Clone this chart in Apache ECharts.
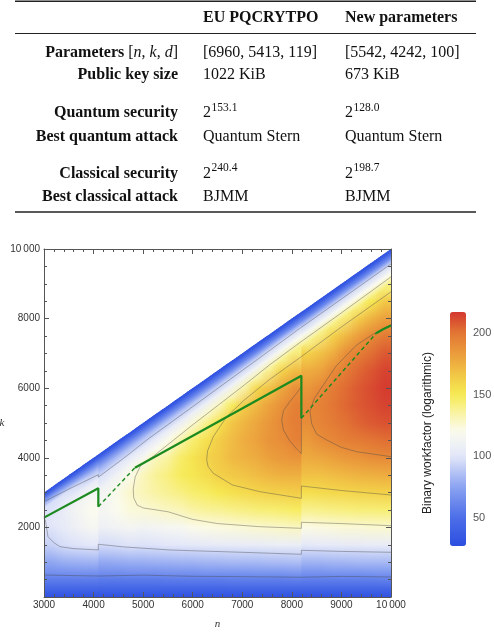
<!DOCTYPE html>
<html>
<head>
<meta charset="utf-8">
<script src="https://cdn.jsdelivr.net/npm/echarts/dist/echarts.min.js"></script>
<style>
  html, body { margin: 0; padding: 0; background: #fff; }
  #chart { width: 494px; height: 634px; }
</style>
</head>
<body>
<div id="chart"></div>
<script>
// ---------- table ----------
const colHeads = ['EU PQCRYTPO', 'New parameters'];
const rowLabels = ['Parameters', 'Public key size', 'Quantum security', 'Best quantum attack', 'Classical security', 'Best classical attack'];
const euValues = ['[6960, 5413, 119]', '1022 KiB', '153.1', 'Quantum Stern', '240.4', 'BJMM'];
const newValues = ['[5542, 4242, 100]', '673 KiB', '128.0', 'Quantum Stern', '198.7', 'BJMM'];
const powerRows = [2, 4]; // rows written as 2^x

// ---------- heat map (binary workfactor) ----------
// columns in n, split at the field-size jumps 4096 and 8192
const colEdges = [3000, 3274, 3548, 3822, 4096,
  4352, 4608, 4864, 5120, 5376, 5632, 5888, 6144, 6400, 6656, 6912, 7168, 7424, 7680, 7936, 8192,
  8450, 8709, 8967, 9225, 9483, 9742, 10000];
// lower part of every column: values at these k
const kGrid = [0, 250, 500, 750, 1000, 1500, 2000, 2500, 3000, 3500, 4000, 4500, 5000, 5500, 6000, 6500, 7000, 7500, 8000, 8500];
// band along the diagonal: values at these distances u = n - k
const uGrid = [1000, 700, 450, 250, 100, 0];
const fieldLow = [
  [30, 45, 57, 68, 76, 92, 99],
  [30, 45, 57, 69, 79, 97, 104],
  [30, 45, 57, 70, 80, 99, 110, 113],
  [30, 45, 57, 70, 81, 101, 115, 120],
  [30, 44, 56, 68, 77, 96, 109, 115, 114],
  [30, 44, 56, 68, 78, 97, 112, 120, 121],
  [30, 44, 56, 69, 79, 99, 114, 124, 127, 121],
  [30, 44, 56, 69, 79, 98, 112, 125, 131, 130],
  [30, 44, 56, 69, 80, 99, 113, 127, 135, 137, 130],
  [30, 44, 57, 70, 80, 100, 115, 129, 138, 142, 136],
  [30, 44, 57, 70, 81, 101, 116, 131, 141, 148, 146, 134],
  [30, 44, 57, 70, 81, 102, 121, 135, 145, 152, 153, 145],
  [30, 44, 57, 71, 82, 103, 122, 137, 147, 156, 160, 154, 139],
  [30, 44, 57, 71, 82, 104, 123, 138, 151, 162, 165, 163, 153],
  [30, 45, 58, 71, 83, 104, 124, 140, 154, 165, 171, 170, 166, 148],
  [30, 45, 58, 71, 83, 105, 125, 141, 157, 167, 174, 176, 173, 164],
  [30, 45, 58, 72, 83, 105, 126, 143, 159, 170, 177, 181, 179, 172, 158],
  [30, 45, 58, 72, 84, 106, 127, 144, 161, 173, 182, 187, 186, 181, 168],
  [30, 45, 58, 72, 84, 107, 128, 145, 162, 175, 185, 190, 192, 189, 179, 161],
  [30, 45, 59, 73, 85, 107, 129, 147, 163, 175, 187, 195, 197, 196, 189, 170],
  [30, 45, 58, 70, 81, 102, 122, 139, 155, 168, 177, 184, 190, 191, 186, 176, 161],
  [30, 45, 58, 70, 81, 103, 123, 140, 157, 168, 179, 190, 194, 195, 192, 180, 168],
  [30, 45, 58, 71, 82, 103, 124, 141, 158, 170, 182, 193, 198, 200, 198, 191, 176, 162],
  [30, 45, 58, 71, 82, 104, 125, 142, 159, 172, 185, 196, 201, 204, 203, 198, 190, 172],
  [30, 45, 58, 71, 83, 104, 125, 143, 160, 174, 187, 198, 205, 208, 208, 204, 197, 183, 164],
  [30, 45, 58, 72, 83, 105, 126, 143, 161, 175, 190, 200, 208, 211, 212, 209, 202, 192, 174, 151],
  [30, 45, 59, 72, 83, 105, 126, 144, 162, 176, 191, 202, 210, 214, 216, 214, 208, 198, 182, 165]
];
const fieldTop = [
  [100, 99, 97, 72, 42, 28], [106, 103, 98, 70, 42, 28], [112, 105, 95, 66, 41, 28], [115, 104, 88, 64, 40, 28],
  [109, 98, 82, 62, 40, 28], [112, 100, 84, 62, 40, 28], [115, 102, 85, 62, 40, 28], [116, 102, 86, 62, 40, 28],
  [119, 103, 87, 62, 40, 28], [121, 104, 87, 62, 40, 28], [123, 105, 88, 62, 40, 28], [125, 107, 89, 62, 40, 28],
  [126, 107, 89, 62, 40, 28], [128, 108, 90, 62, 40, 28], [129, 109, 91, 62, 40, 28], [132, 111, 92, 62, 40, 28],
  [134, 112, 93, 62, 40, 28], [137, 114, 95, 63, 40, 28], [139, 116, 96, 63, 40, 28], [141, 118, 96, 63, 40, 28],
  [139, 116, 94, 62, 40, 28], [140, 116, 95, 62, 40, 28], [141, 117, 95, 63, 40, 28], [142, 118, 95, 63, 40, 28],
  [142, 119, 96, 63, 40, 28], [143, 119, 96, 63, 40, 28], [143, 119, 97, 63, 40, 28]
];

// contour lines (n, k)
const contour64 = [[3000, 632], [3500, 618], [4096, 603], [4096, 650], [5000, 628], [6000, 595], [7000, 585], [8192, 568], [8192, 614], [9000, 592], [10000, 575]];
const contour96 = [[3000, 2260], [3030, 2200], [3050, 2000], [3081, 1733], [3200, 1560], [3323, 1446], [3600, 1390], [4096, 1352], [4096, 1515], [4600, 1440], [5541, 1351], [6147, 1322], [7000, 1285], [8192, 1227], [8192, 1342], [9000, 1310], [10000, 1285]];
const contour96Top = [[3000, 2739], [3500, 3100], [4096, 3515], [4096, 3445], [4600, 3980], [5100, 4540], [6000, 5470], [7000, 6510], [8192, 7750], [8192, 7720], [9000, 8560], [10000, 9570]];
const contour128 = [[10000, 9200], [9000, 8165], [8192, 7342], [8192, 7390], [7552, 6672], [7040, 6090], [6528, 5528], [6016, 4966], [5504, 4384], [5200, 4040], [4950, 3780], [4840, 3450], [4800, 3100], [4810, 2850], [4880, 2640], [5000, 2560], [5500, 2450], [6000, 2230], [6500, 2110], [7357, 2020], [8192, 1974], [8192, 2147], [9000, 2110], [10000, 2049]];
const contour160 = [[10000, 8770], [9000, 7760], [8192, 6907], [8192, 6942], [7552, 6252], [7040, 5660], [6685, 5182], [6415, 4607], [6300, 4200], [6282, 3950], [6310, 3750], [6415, 3555], [6800, 3220], [7357, 3026], [8192, 2836], [8192, 3190], [9000, 3060], [10000, 2931]];
const contour192a = [[8192, 6050], [8097, 5854], [7950, 5600], [7830, 5350], [7795, 5087], [7830, 4800], [7950, 4500], [8100, 4250], [8192, 4120], [8192, 6050]];
const contour192b = [[10000, 7830], [9650, 7560], [9307, 7242], [8900, 6650], [8634, 6093], [8450, 5700], [8366, 5326], [8400, 4980], [8500, 4680], [8702, 4512], [9000, 4300], [9307, 4176], [10000, 4032]];

// green parameter curve
const greenSolid = [
  [[3000, 2280], [4096, 3125], [4096, 2595]],
  [[4835, 3716], [8192, 6360], [8192, 5136]],
  [[9700, 7578], [9850, 7700], [10000, 7800]]
];
const greenDashed = [
  [[4096, 2595], [4835, 3716]],
  [[8192, 5136], [9700, 7578]]
];

// ---------- colours (TemperatureMap-like) ----------
const paletteValues = [27, 50, 75, 100, 120, 135, 150, 165, 180, 200, 217];
const paletteColors = ['#2c4ee0', '#4c6ee8', '#8ba3f1', '#e3e7f9', '#fbfbef', '#f9f3a4', '#f6ea52', '#f2c947', '#eca33d', '#e27634', '#d4382f'];
const paletteRgb = paletteColors.map(c => [1, 3, 5].map(i => parseInt(c.substr(i, 2), 16)));
function colorOf(v) {
  let i = 0;
  while (i < paletteValues.length - 2 && v > paletteValues[i + 1]) i++;
  let t = (v - paletteValues[i]) / (paletteValues[i + 1] - paletteValues[i]);
  t = Math.max(0, Math.min(1, t));
  const a = paletteRgb[i], b = paletteRgb[i + 1];
  return 'rgb(' + a.map((x, j) => Math.round(x + (b[j] - x) * t)).join(',') + ')';
}
const barColors = [];
for (let v = 27; v <= 217; v += 5) barColors.push(colorOf(v));

const chart = echarts.init(document.getElementById('chart'));

// ---------- drawing of the columns ----------
const U = 1000;   // depth of the diagonal band
const SUB = 6;    // slices per column, used to soften the column edges
const OVER = 30;  // overlap (in n) so that slices leave no hairline gaps
const centers = colEdges.slice(1).map((e, i) => (colEdges[i] + e) / 2);
const groupOf = i => (centers[i] < 4096 ? 0 : centers[i] < 8192 ? 1 : 2);

// vertical gradient of the lower part of column j
function lowFill(j, api) {
  const nc = centers[j];
  const stops = fieldLow[j].map((v, q) => ({ offset: kGrid[q] / (nc - U), color: colorOf(v) }));
  stops.push({ offset: 1, color: colorOf(fieldTop[j][0]) });
  return new echarts.graphic.LinearGradient(0, api.coord([nc, 0])[1], 0, api.coord([nc, nc - U])[1], stops, true);
}
// gradient across the diagonal band of column j
function topFill(j, api) {
  const nc = centers[j];
  const a = api.coord([nc, nc]), b = api.coord([nc, nc - U]);
  const d0 = api.coord([3000, 3000]), d1 = api.coord([10000, 10000]);
  let dx = d1[0] - d0[0], dy = d1[1] - d0[1];
  const len = Math.hypot(dx, dy); dx /= len; dy /= len;
  const vx = b[0] - a[0], vy = b[1] - a[1];
  const dot = vx * dx + vy * dy;
  const stops = uGrid.map((u, q) => ({ offset: u / U, color: colorOf(fieldTop[j][q]) })).reverse();
  return new echarts.graphic.LinearGradient(a[0], a[1], a[0] + vx - dot * dx, a[1] + vy - dot * dy, stops, true);
}

function renderColumn(params, api) {
  const i = api.value(2);
  const L = i > 0 && groupOf(i - 1) === groupOf(i) ? i - 1 : -1;
  const R = i < centers.length - 1 && groupOf(i + 1) === groupOf(i) ? i + 1 : -1;
  const own = [lowFill(i, api), topFill(i, api)];
  const left = L >= 0 ? [lowFill(L, api), topFill(L, api)] : null;
  const right = R >= 0 ? [lowFill(R, api), topFill(R, api)] : null;
  const p = (n, k) => api.coord([n, k]);
  const w = (colEdges[i + 1] - colEdges[i]) / SUB;
  const children = [];
  for (let s = 0; s < SUB; s++) {
    const a = colEdges[i] + s * w, b = colEdges[i] + (s + 1) * w + OVER;
    const t = (s + 0.5) / SUB;
    const nb = t < 0.5 ? left : right;
    const op = Math.abs(t - 0.5);
    const lowPts = [p(a, 0), p(b, 0), p(b, b - U + 40), p(a, a - U + 40)];
    const topPts = [p(a, a - U), p(b, b - U), p(b, b), p(a, a)];
    children.push({ type: 'polygon', shape: { points: lowPts }, style: { fill: own[0] } });
    if (nb) children.push({ type: 'polygon', shape: { points: lowPts }, style: { fill: nb[0], opacity: op } });
    children.push({ type: 'polygon', shape: { points: topPts }, style: { fill: own[1] } });
    if (nb) children.push({ type: 'polygon', shape: { points: topPts }, style: { fill: nb[1], opacity: op } });
  }
  return { type: 'group', children: children };
}

const axisColor = '#555';
const sans = '"Liberation Sans", Arial, sans-serif';
const serif = '"Liberation Serif", "DejaVu Serif", serif';
const fmtBig = v => (v === 10000 ? '10\u2009000' : String(v));

function frameX(pos, showLabel) {
  return {
    type: 'value', gridIndex: 0, min: 3000, max: 10000, interval: 1000, position: pos, z: 10,
    axisLine: { show: true, onZero: false, lineStyle: { color: axisColor, width: 1 } },
    axisTick: { show: true, inside: true, length: 5, lineStyle: { color: axisColor } },
    minorTick: { show: true, splitNumber: 5, length: 3, lineStyle: { color: axisColor } },
    splitLine: { show: false }, minorSplitLine: { show: false },
    axisLabel: { show: showLabel, fontSize: 10, color: '#333', fontFamily: sans, margin: 3, formatter: fmtBig }
  };
}
function frameY(pos, showLabel) {
  return {
    type: 'value', gridIndex: 0, min: 0, max: 10000, interval: 2000, position: pos, z: 10,
    axisLine: { show: true, onZero: false, lineStyle: { color: axisColor, width: 1 } },
    axisTick: { show: true, inside: true, length: 5, lineStyle: { color: axisColor } },
    minorTick: { show: true, splitNumber: 4, length: 3, lineStyle: { color: axisColor } },
    splitLine: { show: false }, minorSplitLine: { show: false },
    axisLabel: { show: showLabel, fontSize: 10, color: '#333', fontFamily: sans, margin: 4,
      formatter: v => (v === 0 ? '' : fmtBig(v)) }
  };
}

const xMain = frameX('bottom', true);
xMain.name = 'n'; xMain.nameLocation = 'middle'; xMain.nameGap = 22;
xMain.nameTextStyle = { fontStyle: 'italic', fontSize: 11, color: '#333', fontFamily: serif };
const yMain = frameY('left', true);
yMain.name = 'k'; yMain.nameLocation = 'middle'; yMain.nameGap = 39; yMain.nameRotate = 0;
yMain.nameTextStyle = { fontStyle: 'italic', fontSize: 11, color: '#333', fontFamily: serif };

function lineSeries(data, style, z) {
  return { type: 'line', data: data, xAxisIndex: 0, yAxisIndex: 0, showSymbol: false, symbol: 'none',
    silent: true, z: z, lineStyle: style };
}
const contourStyle = { color: 'rgba(70,70,70,0.45)', width: 0.9 };
const greenColor = '#1b8a1f';

const series = [
  { type: 'custom', xAxisIndex: 0, yAxisIndex: 0, clip: true, silent: true, z: 1,
    encode: { x: 0, y: 1 },
    data: centers.map((c, i) => [c, 5000, i]),
    renderItem: renderColumn },
  { type: 'scatter', data: [], xAxisIndex: 0, yAxisIndex: 0 }
];
[contour64, contour96, contour96Top, contour128, contour160, contour192a, contour192b]
  .forEach(c => series.push(lineSeries(c, contourStyle, 3)));
greenSolid.forEach(g => series.push(lineSeries(g, { color: greenColor, width: 2.2 }, 4)));
greenDashed.forEach(g => series.push(lineSeries(g, { color: greenColor, width: 1.4, type: [4, 3] }, 4)));

// ---------- table graphics ----------
const labelX = 178, col1X = 203, col2X = 345, headY = 18;
const rowY = [53, 75, 113, 137, 173.5, 197];
const g = [];
const rule = (y, w) => ({ type: 'line', shape: { x1: 15, y1: y, x2: 476, y2: y }, style: { stroke: '#222', lineWidth: w } });
g.push(rule(1.2, 1.6), rule(33.5, 1), rule(212, 1.6));
const txt = (x, y, text, font, align) => ({ type: 'text', x: x, y: y,
  style: { text: text, font: font, fill: '#111', align: align || 'left', verticalAlign: 'middle' } });
g.push(txt(col1X, headY, colHeads[0], 'bold 16px ' + serif));
g.push(txt(col2X, headY, colHeads[1], 'bold 16px ' + serif));
rowLabels.forEach((lab, r) => {
  if (r === 0) {
    g.push({ type: 'text', x: labelX, y: rowY[r], style: {
      text: '{b|' + lab + ' }{m|[}{i|n}{m|, }{i|k}{m|, }{i|d}{m|]}',
      align: 'right', verticalAlign: 'middle', fill: '#111',
      rich: {
        b: { fontFamily: serif, fontWeight: 'bold', fontSize: 16 },
        m: { fontFamily: serif, fontSize: 16 },
        i: { fontFamily: serif, fontStyle: 'italic', fontSize: 16 }
      } } });
  } else {
    g.push(txt(labelX, rowY[r], lab, 'bold 16px ' + serif, 'right'));
  }
  [[col1X, euValues[r]], [col2X, newValues[r]]].forEach(([x, v]) => {
    if (powerRows.indexOf(r) >= 0) {
      g.push(txt(x, rowY[r], '2', '16px ' + serif));
      g.push(txt(x + 8.5, rowY[r] - 5.5, v, '11.5px ' + serif));
    } else {
      g.push(txt(x, rowY[r], v, '16px ' + serif));
    }
  });
});
g.push({ type: 'text', x: 428, y: 433, rotation: Math.PI / 2,
  style: { text: 'Binary workfactor (logarithmic)', font: '12px ' + sans, fill: '#222', align: 'center', verticalAlign: 'middle' } });

const option = {
  animation: false,
  backgroundColor: '#fff',
  textStyle: { fontFamily: sans },
  grid: [
    { left: 44, top: 249, width: 347, height: 348, containLabel: false, outerBoundsMode: 'none' },
    { left: 450, top: 320.6, width: 16, height: 221.7, containLabel: false, outerBoundsMode: 'none' },
    { left: 450, top: 332.9, width: 16, height: 184.8, containLabel: false, outerBoundsMode: 'none' }
  ],
  xAxis: [
    xMain,
    frameX('top', false),
    { type: 'value', gridIndex: 1, show: false, min: 0, max: 1 },
    { type: 'value', gridIndex: 2, show: false, min: 0, max: 1 }
  ],
  yAxis: [
    yMain,
    frameY('right', false),
    { type: 'value', gridIndex: 1, min: 30, max: 210, interval: 10, position: 'right',
      axisLine: { show: false }, splitLine: { show: false }, axisLabel: { show: false },
      axisTick: { show: true, length: 3, lineStyle: { color: '#999' } } },
    { type: 'value', gridIndex: 2, min: 50, max: 200, interval: 50, position: 'right',
      axisLine: { show: false }, splitLine: { show: false },
      axisTick: { show: true, length: 5, lineStyle: { color: '#999' } },
      axisLabel: { fontSize: 11, color: '#555', fontFamily: sans, margin: 7 } }
  ],
  visualMap: {
    type: 'continuous', min: 27, max: 217, seriesIndex: 1, calculable: false,
    orient: 'vertical', left: 450, top: 312, itemWidth: 16, itemHeight: 234, padding: 0,
    inRange: { color: barColors }
  },
  graphic: { elements: g },
  series: series
};
chart.setOption(option);
</script>
</body>
</html>
